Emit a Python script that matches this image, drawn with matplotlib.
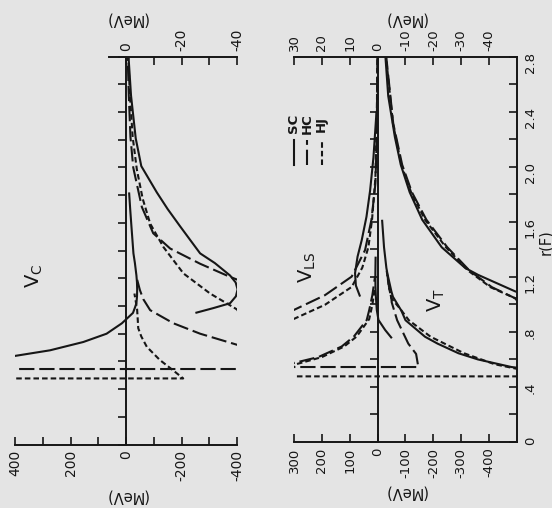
import matplotlib.pyplot as plt
import numpy as np
from matplotlib.ticker import FixedLocator

plt.rcParams['font.family'] = 'DejaVu Sans'
plt.rcParams['axes.unicode_minus'] = False
plt.rcParams['lines.scale_dashes'] = False
plt.rcParams['mathtext.fontset'] = 'dejavusans'

tinta = '#161616'
fondo = '#e4e4e4'

# ---- Datos: r en F, potenciales en MeV ----
# Potencial central V_C
r_c_sc = [0.63, 0.68, 0.74, 0.80, 0.875, 0.95, 0.985, 1.02, 1.07, 1.12, 1.17, 1.22,
          1.31, 1.38, 1.48, 1.575, 1.70, 1.82, 2.01, 2.21, 2.52, 2.8]
v_c_sc = [430, 274, 154, 70, 15, -25, -31.5, -37.5, -39.6, -40.2, -39.5, -37.5,
          -32, -26.7, -23, -19.5, -15, -11.1, -5.5, -3.5, -1.8, -0.9]
r_c_hc = [0.545, 0.545, 0.63, 0.72, 0.80, 0.875, 0.97, 1.05, 1.115, 1.21, 1.305,
          1.415, 1.525, 1.715, 2.0, 2.22, 2.52, 2.8]
v_c_hc = [1000, -1000, -650, -400, -267, -171, -87, -62, -50, -37.5, -26.7,
          -15.9, -9.8, -5.7, -2.6, -1.6, -1.0, -0.6]
r_c_hj = [0.477, 0.477, 0.535, 0.61, 0.705, 0.78, 0.84, 0.91, 0.975, 1.09, 1.235,
          1.425, 1.595, 1.775, 1.985, 2.22, 2.52, 2.8]
v_c_hj = [1000, -206, -170, -122, -75, -55, -44, -42, -40, -30.3, -20.7,
          -13.5, -8.7, -6.0, -3.9, -2.4, -1.4, -0.8]

# Potencial espin-orbita V_LS
r_ls_sc = [0.754, 0.814, 0.887, 0.96, 1.057, 1.137, 1.227, 1.347, 1.467, 1.637,
           1.827, 2.067, 2.4]
v_ls_sc = [-51, -27, -3, 3, 6.3, 7.8, 8.1, 7.2, 5.7, 4.0, 2.7, 1.5, 0.4]
r_ls_hc = [0.545, 0.573, 0.617, 0.694, 0.767, 0.887, 0.96, 1.067, 1.202, 1.395,
           1.617, 1.877, 2.217, 2.8]
v_ls_hc = [350, 303, 213, 129, 85, 39, 30, 18.9, 9.3, 4.5, 2.2, 0.8, 0.3, 0.1]
r_ls_hj = [0.53, 0.561, 0.617, 0.694, 0.767, 0.893, 0.997, 1.127, 1.267, 1.417,
           1.617, 1.917, 2.317, 2.8]
v_ls_hj = [380, 300, 200, 120, 75, 30.2, 18.9, 9.3, 5.5, 3.3, 2.0, 0.8, 0.3, 0.1]

# Potencial tensorial V_T
r_t_sc = [0.535, 0.545, 0.60, 0.645, 0.715, 0.765, 0.885, 0.955, 1.055, 1.095, 1.215,
          1.265, 1.415, 1.615, 1.815, 2.015, 2.215, 2.515, 2.8]
v_t_sc = [-520, -480, -360, -290, -215, -170, -100, -85, -55, -49.3, -36,
          -31.4, -23, -16, -11.5, -8.3, -6.2, -3.8, -2.8]
r_t_hc = [0.545, 0.545, 0.64, 0.715, 0.885, 1.015, 1.045, 1.125, 1.245, 1.415,
          1.615, 1.815, 2.015, 2.315, 2.8]
v_t_hc = [1000, -146, -138, -110, -70, -50.5, -49.3, -41, -33, -25,
          -17.5, -12.3, -8.8, -5.6, -3.1]
r_t_hj = [0.477, 0.477, 0.515, 0.565, 0.645, 0.765, 0.885, 0.965, 1.045, 1.125,
          1.245, 1.415, 1.615, 1.815, 2.015, 2.315, 2.8]
v_t_hj = [1000, -1000, -540, -420, -310, -190, -112, -82, -49.3, -40.5,
          -32.5, -24.5, -17, -12, -8.5, -5.5, -3.0]

estilos = {
    'SC': dict(color=tinta, lw=1.5, ls='-'),
    'HC': dict(color=tinta, lw=1.5, ls=(0, (11, 3.5))),
    'HJ': dict(color=tinta, lw=1.5, ls=(0, (4, 2.2))),
}


def trazar(ax, ax10, r, v, clave, r_max, r_min10):
    r = np.asarray(r)
    v = np.asarray(v)
    m = r <= r_max
    ax.plot(v[m], r[m], solid_capstyle='butt', **estilos[clave])
    m = r >= r_min10
    ax10.plot(v[m], r[m], solid_capstyle='butt', **estilos[clave])


def ejes_base(ax):
    ax.patch.set_visible(False)
    ax.spines['left'].set_position(('data', 0))
    ax.spines['right'].set_visible(False)
    ax.spines['top'].set_visible(False)
    for s in ax.spines.values():
        s.set_linewidth(1.4)
        s.set_color(tinta)
    ax.yaxis.set_major_locator(FixedLocator(np.arange(0, 2.81, 0.2)))
    ax.tick_params(axis='y', direction='out', length=6, width=1.2,
                   labelleft=False, color=tinta)


def ejes_x10(ax10):
    for s in ['left', 'right', 'bottom']:
        ax10.spines[s].set_visible(False)
    ax10.spines['top'].set_linewidth(1.4)
    ax10.spines['top'].set_color(tinta)


fig = plt.figure(figsize=(5.52, 5.08), dpi=100)
fig.patch.set_facecolor(fondo)

# ---- Panel V_C ----
ax_c = fig.add_axes([0.0272, 0.1250, 0.4022, 0.7634])
ax_c10 = ax_c.twiny()
ejes_base(ax_c)
ejes_x10(ax_c10)

trazar(ax_c, ax_c10, r_c_sc, v_c_sc, 'SC', 1.83, 0.94)
trazar(ax_c, ax_c10, r_c_hc, v_c_hc, 'HC', 1.22, 1.10)
trazar(ax_c, ax_c10, r_c_hj, v_c_hj, 'HJ', 1.22, 0.90)

ax_c.set_xlim(400, -400)
ax_c.set_ylim(0, 2.8)
ax_c10.set_xlim(40, -40)

ax_c.xaxis.set_major_locator(FixedLocator([400, 200, 0, -200, -400]))
ax_c.xaxis.set_minor_locator(FixedLocator([300, 100, -100, -300]))
ax_c.tick_params(axis='x', which='both', direction='in', length=6, width=1.2,
                 labelsize=10, labelrotation=90, pad=4, color=tinta, labelcolor=tinta)
ax_c.set_xlabel('(MeV)', rotation=180, fontsize=10.5, labelpad=5, color=tinta)

ax_c10.xaxis.set_major_locator(FixedLocator([0, -20, -40]))
ax_c10.xaxis.set_minor_locator(FixedLocator([-10, -30]))
ax_c10.tick_params(axis='x', which='both', direction='in', length=6, width=1.2,
                   labelsize=10, labelrotation=90, pad=4, color=tinta, labelcolor=tinta)
ax_c10.spines['top'].set_bounds(6, -40)
ax_c10.set_xlabel('(MeV)', rotation=180, fontsize=10.5, labelpad=4, color=tinta)

ax_c.text(331, 1.22, r'$\mathrm{V_C}$', rotation=90, fontsize=14,
          ha='center', va='center', color=tinta)

# ---- Panel V_LS y V_T ----
ax_t = fig.add_axes([0.5326, 0.1299, 0.4040, 0.7585])
ax_t10 = ax_t.twiny()
ejes_base(ax_t)
ejes_x10(ax_t10)

trazar(ax_t, ax_t10, r_ls_sc, v_ls_sc, 'SC', 1.42, 1.05)
trazar(ax_t, ax_t10, r_ls_hc, v_ls_hc, 'HC', 1.25, 0.85)
trazar(ax_t, ax_t10, r_ls_hj, v_ls_hj, 'HJ', 1.25, 0.85)
trazar(ax_t, ax_t10, r_t_sc, v_t_sc, 'SC', 1.62, 0.95)
trazar(ax_t, ax_t10, r_t_hc, v_t_hc, 'HC', 1.30, 0.95)
trazar(ax_t, ax_t10, r_t_hj, v_t_hj, 'HJ', 1.30, 0.95)

ax_t.set_xlim(300, -500)
ax_t.set_ylim(0, 2.8)
ax_t10.set_xlim(30, -50)

ax_t.xaxis.set_major_locator(FixedLocator(np.arange(300, -401, -100)))
ax_t.tick_params(axis='x', direction='in', length=6, width=1.2, labelsize=9.5,
                 labelrotation=90, pad=4, color=tinta, labelcolor=tinta)
ax_t.set_xlabel('(MeV)', rotation=180, fontsize=10.5, labelpad=5, color=tinta)

ax_t10.xaxis.set_major_locator(FixedLocator(np.arange(30, -41, -10)))
ax_t10.tick_params(axis='x', direction='in', length=6, width=1.2, labelsize=9.5,
                   labelrotation=90, pad=4, color=tinta, labelcolor=tinta)
ax_t10.set_xlabel('(MeV)', rotation=180, fontsize=10.5, labelpad=4, color=tinta)

# eje r a la derecha
eje_r = ax_t.secondary_yaxis('right')
eje_r.set_ticks(np.arange(0, 2.81, 0.4),
                labels=['0', '.4', '.8', '1.2', '1.6', '2.0', '2.4', '2.8'])
eje_r.set_ticks(np.arange(0.2, 2.7, 0.4), minor=True)
eje_r.tick_params(which='both', direction='in', length=6, width=1.2, labelsize=9.5,
                  labelrotation=90, pad=5, color=tinta, labelcolor=tinta)
eje_r.spines['right'].set_linewidth(1.4)
eje_r.spines['right'].set_color(tinta)
ax_t.text(1.13, 0.52, 'r(F)', transform=ax_t.transAxes, rotation=90,
          ha='center', va='center', fontsize=10.5, color=tinta)

ax_t.text(253, 1.27, r'$\mathrm{V_{LS}}$', rotation=90, fontsize=14,
          ha='center', va='center', color=tinta)
ax_t.text(-210, 1.03, r'$\mathrm{V_T}$', rotation=90, fontsize=14,
          ha='center', va='center', color=tinta)

# leyenda vertical
for x, clave in zip([0.0, 0.06, 0.124], ['SC', 'HC', 'HJ']):
    ax_t.plot([x, x], [0.719, 0.784], transform=ax_t.transAxes, clip_on=False,
              **estilos[clave])
    ax_t.text(x, 0.826, clave, rotation=90, transform=ax_t.transAxes,
              ha='center', va='center', fontsize=9.5, fontweight='bold', color=tinta)

fig.savefig('out.png', dpi=100, facecolor=fondo)
